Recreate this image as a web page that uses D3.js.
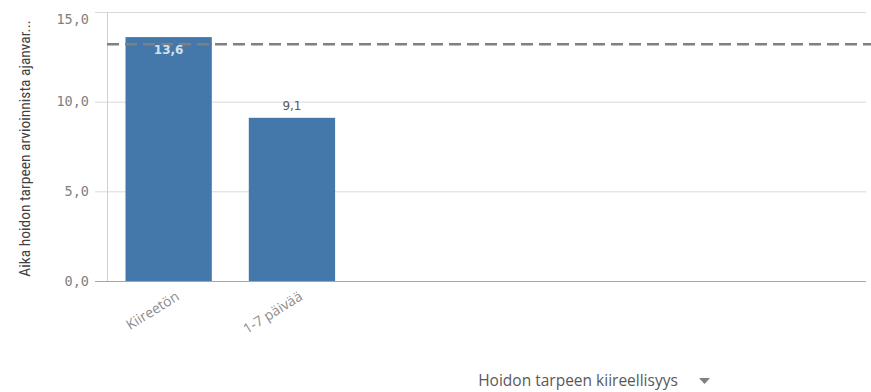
<!DOCTYPE html>
<html>
<head>
<meta charset="utf-8">
<script src="https://cdn.jsdelivr.net/npm/d3@7"></script>
<style>
  html, body { margin: 0; padding: 0; background: #fff; }
  svg { display: block; }
</style>
</head>
<body>
<svg id="chart" width="871" height="392"></svg>
<script>
// Waiting time by urgency of care need
const categories = ["Kiireetön", "1-7 päivää"];
const values = [13.6, 9.1];
const referenceValue = 13.2;
const yTicks = [0, 5, 10, 15];
const yTitle = "Aika hoidon tarpeen arvioinnista ajanvar...";
const xTitle = "Hoidon tarpeen kiireellisyys";

const svg = d3.select("#chart");
const fmt = v => d3.format(".1f")(v).replace(".", ",");

const plotLeft = 107, plotRight = 866, plotTop = 12, plotBottom = 281;

const y = d3.scaleLinear().domain([0, 15]).range([plotBottom, plotTop]);
const x = d3.scaleBand()
  .domain(categories)
  .range([plotLeft, plotLeft + 246.6])
  .paddingInner(0.3)
  .paddingOuter(0.15);

// horizontal grid + y tick labels
const grid = svg.append("g");
grid.selectAll("line.grid")
  .data(yTicks.filter(t => t > 0))
  .join("line")
  .attr("x1", 95).attr("x2", plotRight)
  .attr("y1", d => y(d) + 0.5).attr("y2", d => y(d) + 0.5)
  .attr("stroke", "#d9d9d9").attr("stroke-width", 1);

grid.selectAll("text")
  .data(yTicks)
  .join("text")
  .attr("x", 89)
  .attr("y", d => d === 15 ? y(d) + 7 : y(d))
  .attr("dy", "0.35em")
  .attr("text-anchor", "end")
  .attr("font-family", "'DejaVu Sans Mono', monospace")
  .attr("font-size", 13.5)
  .attr("fill", "#7f7f7f")
  .text(d => fmt(d));

// y axis line
svg.append("line")
  .attr("x1", plotLeft + 0.5).attr("x2", plotLeft + 0.5)
  .attr("y1", plotTop).attr("y2", plotBottom)
  .attr("stroke", "#d0d0d0");

// bars
svg.append("g").selectAll("rect")
  .data(values)
  .join("rect")
  .attr("x", (d, i) => x(categories[i]))
  .attr("width", x.bandwidth())
  .attr("y", d => y(d))
  .attr("height", d => y(0) - y(d))
  .attr("fill", "#4477aa");

// baseline
svg.append("line")
  .attr("x1", 95).attr("x2", plotRight)
  .attr("y1", plotBottom + 0.5).attr("y2", plotBottom + 0.5)
  .attr("stroke", "#a6a6a6");

// reference line
svg.append("line")
  .attr("x1", plotLeft).attr("x2", 871)
  .attr("y1", y(referenceValue)).attr("y2", y(referenceValue))
  .attr("stroke", "#808080")
  .attr("stroke-width", 2.5)
  .attr("stroke-dasharray", "12,6");

// value labels
svg.append("g").selectAll("text")
  .data(values)
  .join("text")
  .attr("x", (d, i) => x(categories[i]) + x.bandwidth() / 2)
  .attr("y", d => d > 12 ? y(d) + 13 : y(d) - 12)
  .attr("dy", "0.35em")
  .attr("text-anchor", "middle")
  .attr("font-family", "'DejaVu Sans', sans-serif")
  .attr("font-size", 12)
  .attr("font-weight", d => d > 12 ? "bold" : "normal")
  .attr("fill", d => d > 12 ? "#d6e0ec" : "#595959")
  .text(d => fmt(d));

// category labels
svg.append("g").selectAll("text")
  .data(categories)
  .join("text")
  .attr("transform", d => `translate(${x(d) + x.bandwidth() / 2 + 6},${plotBottom + 9}) rotate(-32)`)
  .attr("text-anchor", "end")
  .attr("dy", "0.75em")
  .attr("font-family", "'Open Sans', sans-serif")
  .attr("font-size", 14)
  .attr("fill", "#8c8c8c")
  .text(d => d);

// y axis title
svg.append("text")
  .attr("transform", `translate(25,148.5) rotate(-90)`)
  .attr("text-anchor", "middle")
  .attr("dy", "0.35em")
  .attr("font-family", "'Liberation Sans Narrow', 'Roboto Condensed', sans-serif")
  .attr("font-size", 15.5)
  .attr("fill", "#404040")
  .text(yTitle);

// x axis title with dropdown marker
svg.append("text")
  .attr("x", 578).attr("y", 381)
  .attr("dy", "0.35em")
  .attr("text-anchor", "middle")
  .attr("font-family", "'Open Sans', sans-serif")
  .attr("font-size", 15.5)
  .attr("fill", "#595959")
  .text(xTitle);

svg.append("path")
  .attr("d", "M699,378 L710,378 L704.5,384 Z")
  .attr("fill", "#7f7f7f");
</script>
</body>
</html>
